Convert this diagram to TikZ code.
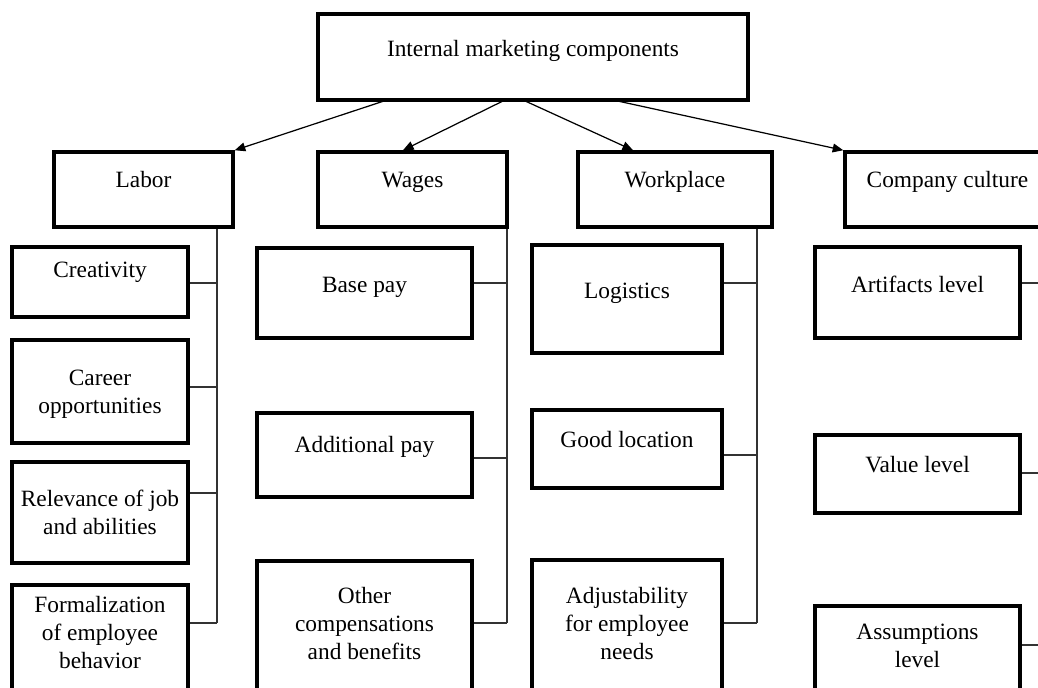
\documentclass[tikz,border=0pt]{standalone}
\usepackage{fontspec}
\setmainfont{Liberation Serif}
\usetikzlibrary{arrows.meta,positioning,fit}

\begin{document}
\begin{tikzpicture}[x=0.02cm,y=-0.02cm]
	\tikzstyle{Box}  = [draw, rectangle, line width=2pt, inner sep=0pt]
	\tikzstyle{Txt}  = [align=center, inner sep=0pt, anchor=base, font=\fontsize{13.3}{15.9}\selectfont]
	\tikzstyle{Arr}  = [-{Triangle[length=6pt,width=5pt]}, line width=0.7pt]
	\tikzstyle{Tree} = [line width=0.6pt, black!80]

	\clip (0,0) rectangle (1038,687);

	% top and main components
	\node (top) [Box, fit={(318,14) (748,100)}] {};
	\node (lab) [Box, fit={(54,152) (233,227)}] {};
	\node (wag) [Box, fit={(318,152) (507,227)}] {};
	\node (wrk) [Box, fit={(578,152) (772,227)}] {};
	\node (cul) [Box, fit={(845,152) (1050,227)}] {};

	% sub components
	\node (cre) [Box, fit={(12,247) (188,317)}] {};
	\node (car) [Box, fit={(12,340) (188,443)}] {};
	\node (rel) [Box, fit={(12,462) (188,563)}] {};
	\node (frm) [Box, fit={(12,585) (188,710)}] {};
	\node (bas) [Box, fit={(257,248) (472,338)}] {};
	\node (add) [Box, fit={(257,413) (472,497)}] {};
	\node (oth) [Box, fit={(257,561) (472,710)}] {};
	\node (log) [Box, fit={(532,245) (722,353)}] {};
	\node (loc) [Box, fit={(532,410) (722,488)}] {};
	\node (adj) [Box, fit={(532,560) (722,710)}] {};
	\node (art) [Box, fit={(815,247) (1020,338)}] {};
	\node (val) [Box, fit={(815,435) (1020,513)}] {};
	\node (asm) [Box, fit={(815,606) (1020,710)}] {};

	% texts (base = last line)
	\node (topT) at (top |- 0,56) [Txt] {Internal marketing components};
	\node (labT) at (lab |- 0,187) [Txt] {Labor};
	\node (wagT) at (wag |- 0,187) [Txt] {Wages};
	\node (wrkT) at (wrk |- 0,187) [Txt] {Workplace};
	\node (culT) at (cul |- 0,187) [Txt] {Company culture};
	\node (creT) at (cre |- 0,277) [Txt] {Creativity};
	\node (carT) at (car |- 0,413) [Txt] {Career\\opportunities};
	\node (relT) at (rel |- 0,534) [Txt] {Relevance of job\\and abilities};
	\node (frmT) at (frm |- 0,668) [Txt] {Formalization\\of employee\\behavior};
	\node (basT) at (bas |- 0,292) [Txt] {Base pay};
	\node (addT) at (add |- 0,452) [Txt] {Additional pay};
	\node (othT) at (oth |- 0,659) [Txt] {Other\\compensations\\and benefits};
	\node (logT) at (log |- 0,298) [Txt] {Logistics};
	\node (locT) at (loc |- 0,447) [Txt] {Good location};
	\node (adjT) at (adj |- 0,659) [Txt] {Adjustability\\for employee\\needs};
	\node (artT) at (art |- 0,292) [Txt] {Artifacts level};
	\node (valT) at (val |- 0,472) [Txt] {Value level};
	\node (asmT) at (asm |- 0,667) [Txt] {Assumptions\\level};

	% arrows
	\coordinate (a1) at (387,100);
	\coordinate (a2) at (505,100);
	\coordinate (a3) at (523,100);
	\coordinate (a4) at (613,100);
	\draw [Arr] (a1) to (lab.north east);
	\draw [Arr] (a2) to (wag.north -| 403,0);
	\draw [Arr] (a3) to (wrk.north -| 633,0);
	\draw [Arr] (a4) to (cul.north west);

	% trunks
	\coordinate (labE) at (217,623);
	\coordinate (wagE) at (507,623);
	\coordinate (wrkE) at (757,623);
	\coordinate (culE) at (1050,645);
	\draw [Tree] (lab.south -| labE) to (labE);
	\draw [Tree] (wag.south -| wagE) to (wagE);
	\draw [Tree] (wrk.south -| wrkE) to (wrkE);
	\draw [Tree] (cul.south -| culE) to (culE);

	% branches
	\foreach \n/\y in {cre/283, car/387, rel/493, frm/623}
		\draw [Tree] (\n.east |- 0,\y) to (labE |- 0,\y);
	\foreach \n/\y in {bas/283, add/458, oth/623}
		\draw [Tree] (\n.east |- 0,\y) to (wagE |- 0,\y);
	\foreach \n/\y in {log/283, loc/455, adj/623}
		\draw [Tree] (\n.east |- 0,\y) to (wrkE |- 0,\y);
	\foreach \n/\y in {art/283, val/473, asm/645}
		\draw [Tree] (\n.east |- 0,\y) to (culE |- 0,\y);
\end{tikzpicture}
\end{document}
